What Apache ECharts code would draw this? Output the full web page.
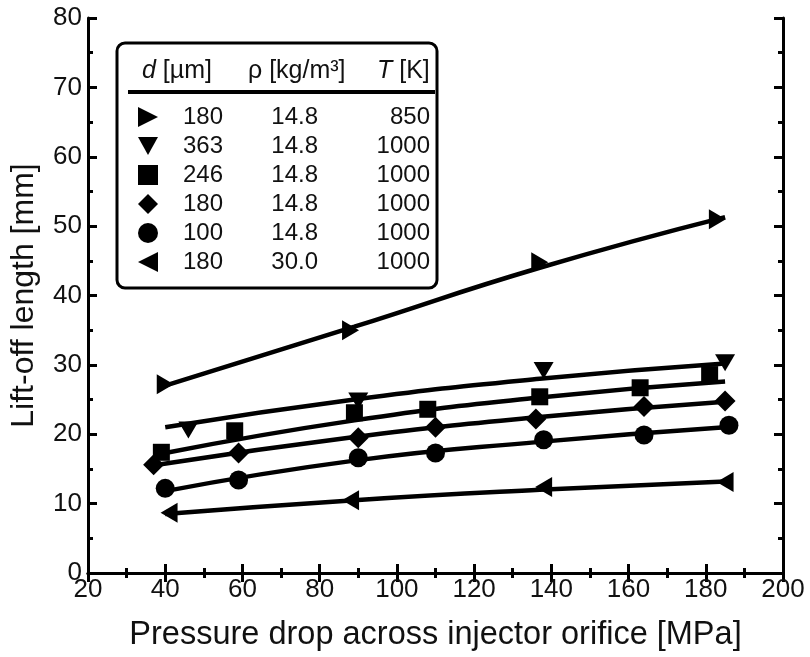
<!DOCTYPE html>
<html>
<head>
<meta charset="utf-8">
<script src="https://cdn.jsdelivr.net/npm/echarts@6/dist/echarts.min.js"></script>
<style>
  html, body { margin: 0; background: #fff; }
  #chart { width: 810px; height: 657px; }
</style>
</head>
<body>
<div id="chart"></div>
<script>
const FONT = '"Liberation Sans", Arial, sans-serif';

// legend table: orifice diameter, ambient density, ambient temperature
const diameters = ['180', '363', '246', '180', '100', '180'];
const densities = ['14.8', '14.8', '14.8', '14.8', '14.8', '30.0'];
const temperatures = ['850', '1000', '1000', '1000', '1000', '1000'];

// measured lift-off length [mm] vs pressure drop [MPa]
const pts180_850 = [[40, 27.2], [88, 35.0], [137, 44.8], [183, 51.0]];
const pts363 = [[46, 20.6], [90, 24.8], [138, 29.2], [185, 30.3]];
const pts246 = [[39, 17.4], [58, 20.5], [89, 23.1], [108, 23.6], [137, 25.4], [163, 26.7], [181, 28.6]];
const pts180 = [[37, 15.6], [59, 17.3], [90, 19.5], [110, 21.0], [136, 22.2], [164, 24.0], [185, 24.8]];
const pts100 = [[40, 12.2], [59, 13.4], [90, 16.6], [110, 17.3], [138, 19.2], [164, 19.9], [186, 21.3]];
const pts180_rho30 = [[41, 8.7], [88, 10.5], [138, 12.4], [185, 13.1]];

// fitted curves
const fit180_850 = [[40, 27.0], [89, 35.5], [137, 44.0], [185, 51.3]];
const fit363 = [[40, 21.0], [89, 25.0], [137, 28.0], [185, 30.2]];
const fit246 = [[40, 17.3], [89, 22.0], [137, 25.3], [185, 27.6]];
const fit180 = [[38, 15.6], [89, 19.6], [137, 22.5], [185, 24.7]];
const fit100 = [[40, 11.8], [89, 16.2], [137, 18.9], [185, 21.0]];
const fit180_rho30 = [[40, 8.5], [89, 10.5], [137, 12.0], [185, 13.2]];

const TRI_RIGHT = 'path://M0,0L10,5L0,10Z';
const TRI_DOWN = 'path://M0,0L10,0L5,9Z';
const TRI_LEFT = 'path://M10,0L0,5L10,10Z';
const DIAMOND = 'path://M0,-1L1,0L0,1L-1,0Z';

const groups = [
  { name: 's1', pts: pts180_850, fit: fit180_850, symbol: TRI_RIGHT, size: [17, 20] },
  { name: 's2', pts: pts363, fit: fit363, symbol: TRI_DOWN, size: [20, 17] },
  { name: 's3', pts: pts246, fit: fit246, symbol: 'rect', size: 17 },
  { name: 's4', pts: pts180, fit: fit180, symbol: DIAMOND, size: 21 },
  { name: 's5', pts: pts100, fit: fit100, symbol: 'circle', size: 19 },
  { name: 's6', pts: pts180_rho30, fit: fit180_rho30, symbol: TRI_LEFT, size: [17, 20] }
];

const series = [];
groups.forEach(g => {
  series.push({
    type: 'line',
    data: g.fit,
    smooth: true,
    showSymbol: false,
    silent: true,
    lineStyle: { color: '#000', width: 4.5 },
    z: 2
  });
});
groups.forEach(g => {
  series.push({
    name: g.name,
    type: 'scatter',
    data: g.pts,
    symbol: g.symbol,
    symbolSize: g.size,
    itemStyle: { color: '#000', opacity: 1 },
    z: 3
  });
});

const axisCommon = {
  axisLine: { show: true, lineStyle: { color: '#000', width: 3 } },
  axisTick: { show: true, inside: true, length: 9, lineStyle: { color: '#000', width: 3 } },
  minorTick: { show: true, splitNumber: 2, length: 5, lineStyle: { color: '#000', width: 3 } },
  splitLine: { show: false }
};

const chart = echarts.init(document.getElementById('chart'));
chart.setOption({
  backgroundColor: '#fff',
  animation: false,
  textStyle: { fontFamily: FONT },
  grid: { left: 88, right: 27, top: 18, bottom: 84 },
  xAxis: [
    Object.assign({
      type: 'value', min: 20, max: 200, interval: 20,
      name: 'Pressure drop across injector orifice [MPa]',
      nameLocation: 'middle', nameGap: 46,
      nameTextStyle: { fontSize: 32.5, color: '#111', fontFamily: FONT },
      axisLabel: { fontSize: 26, color: '#111', margin: 4, fontFamily: FONT }
    }, axisCommon),
    Object.assign({
      type: 'value', min: 20, max: 200, interval: 20, position: 'top',
      axisLabel: { show: false }
    }, axisCommon)
  ],
  yAxis: [
    Object.assign({
      type: 'value', min: 0, max: 80, interval: 10,
      name: 'Lift-off length [mm]',
      nameLocation: 'middle', nameGap: 48,
      nameTextStyle: { fontSize: 32, color: '#111', fontFamily: FONT },
      axisLabel: { fontSize: 26, color: '#111', margin: 6, fontFamily: FONT }
    }, axisCommon),
    Object.assign({
      type: 'value', min: 0, max: 80, interval: 10, position: 'right',
      axisLabel: { show: false }
    }, axisCommon)
  ],
  legend: {
    orient: 'vertical',
    left: 133,
    top: 100,
    itemWidth: 20,
    itemHeight: 20,
    itemGap: 5,
    data: groups.map(g => ({ name: g.name, icon: g.symbol })),
    formatter: name => {
      const i = groups.findIndex(g => g.name === name);
      return '{d|' + diameters[i] + '}{r|' + densities[i] + '}{t|' + temperatures[i] + '}';
    },
    itemStyle: { opacity: 1 },
    textStyle: {
      fontSize: 24, color: '#111', fontFamily: FONT, lineHeight: 20,
      rich: {
        d: { width: 60, align: 'right', fontSize: 24, lineHeight: 20 },
        r: { width: 95, align: 'right', fontSize: 24, lineHeight: 20 },
        t: { width: 112, align: 'right', fontSize: 24, lineHeight: 20 }
      }
    }
  },
  graphic: [
    {
      type: 'rect', z: 1,
      shape: { x: 117, y: 43, width: 320, height: 245, r: 8 },
      style: { fill: '#fff', stroke: '#000', lineWidth: 3 }
    },
    {
      type: 'rect', z: 5,
      shape: { x: 128, y: 90, width: 307, height: 4 },
      style: { fill: '#000' }
    },
    {
      type: 'text', z: 5, left: 142, top: 59,
      style: {
        text: '{i|d} [µm]', fontSize: 25, fontFamily: FONT, fill: '#111',
        rich: { i: { fontStyle: 'italic', fontSize: 25, fontFamily: FONT } }
      }
    },
    {
      type: 'text', z: 5, left: 248, top: 59,
      style: { text: 'ρ [kg/m³]', fontSize: 25, fontFamily: FONT, fill: '#111' }
    },
    {
      type: 'text', z: 5, left: 377, top: 59,
      style: {
        text: '{i|T} [K]', fontSize: 25, fontFamily: FONT, fill: '#111',
        rich: { i: { fontStyle: 'italic', fontSize: 25, fontFamily: FONT } }
      }
    }
  ],
  series: series
});
</script>
</body>
</html>
